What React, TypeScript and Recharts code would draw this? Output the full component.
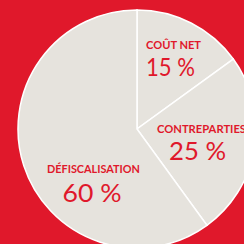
import React from "react";
import { PieChart, Pie, Cell } from "recharts";

const categories = ["COÛT NET", "CONTREPARTIES", "DÉFISCALISATION"];
const values = [15, 25, 60];
const valueLabels = ["15 %", "25 %", "60 %"];

const data = categories.map((name, i) => ({ name, value: values[i] }));

const RED = "#e0182b";
const SLICE = "#e6e3dd";

// label layout (offsets from pie centre) and widths
const labelLayout = [
  { nx: 9, ny: -80.5, nw: 55, vx: 9, vy: -53, vw: 49 },
  { nx: 20, ny: 3.5, nw: 89, vx: 32, vy: 31, vw: 57 },
  { nx: -90, ny: 44, nw: 93, vx: -74.5, vy: 73, vw: 59 },
];

const renderLabel = (props: any) => {
  const { cx, cy, index } = props;
  const l = labelLayout[index];
  return (
    <g key={`lbl-${index}`}>
      <text
        x={cx + l.nx}
        y={cy + l.ny}
        fill={RED}
        fontFamily="Lato, 'Open Sans', sans-serif"
        fontWeight={700}
        fontSize={11}
        textLength={l.nw}
        lengthAdjust="spacingAndGlyphs"
        textAnchor="start"
      >
        {categories[index]}
      </text>
      <text
        x={cx + l.vx}
        y={cy + l.vy}
        fill={RED}
        fontFamily="Lato, 'Open Sans', sans-serif"
        fontWeight={400}
        fontSize={25}
        textLength={l.vw}
        lengthAdjust="spacingAndGlyphs"
        textAnchor="start"
      >
        {valueLabels[index]}
      </text>
    </g>
  );
};

export default function App() {
  return (
    <div
      style={{
        position: "fixed",
        left: 0,
        top: 0,
        width: 244,
        height: 244,
        background: RED,
        overflow: "hidden",
      }}
    >
      <PieChart width={244} height={244} margin={{ top: 0, right: 0, bottom: 0, left: 0 }}>
        <Pie
          data={data}
          dataKey="value"
          nameKey="name"
          cx={137}
          cy={129}
          outerRadius={119}
          startAngle={90}
          endAngle={-270}
          stroke="#ffffff"
          strokeWidth={1.5}
          label={renderLabel}
          labelLine={false}
          isAnimationActive={false}
        >
          {data.map((d, i) => (
            <Cell key={d.name} fill={SLICE} />
          ))}
        </Pie>
      </PieChart>
    </div>
  );
}
